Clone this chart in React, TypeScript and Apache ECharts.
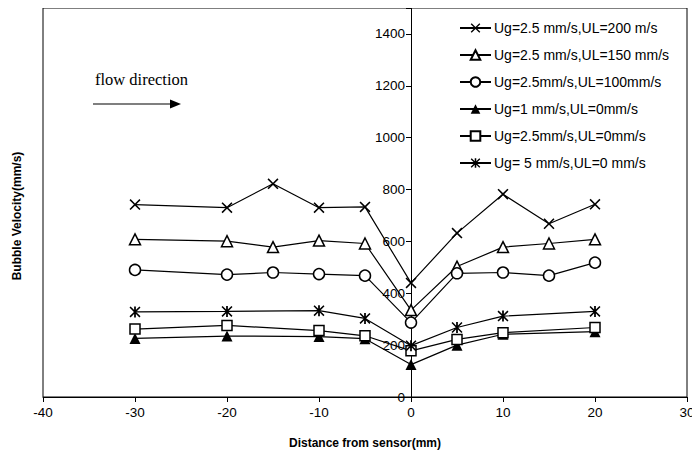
import React, { useEffect, useRef } from "react";
import * as echarts from "echarts";

// Distance from sensor (mm)
const distFull = [-30, -20, -15, -10, -5, 0, 5, 10, 15, 20];
const distShort = [-30, -20, -10, -5, 0, 5, 10, 20];

// Bubble velocity (mm/s) per flow condition
const ul200 = [742, 730, 822, 730, 733, 440, 632, 782, 668, 743];
const ul150 = [608, 601, 578, 603, 592, 335, 503, 578, 592, 608];
const ul100 = [490, 472, 480, 474, 468, 287, 477, 480, 468, 518];
const ug1 = [226, 235, 233, 225, 125, 200, 242, 252];
const ug25 = [262, 276, 256, 236, 178, 222, 248, 268];
const ug5 = [328, 330, 333, 303, 198, 268, 312, 330];

const seriesNames = [
  "Ug=2.5 mm/s,UL=200 m/s",
  "Ug=2.5 mm/s,UL=150 mm/s",
  "Ug=2.5mm/s,UL=100mm/s",
  "Ug=1 mm/s,UL=0mm/s",
  "Ug=2.5mm/s,UL=0mm/s",
  "Ug= 5 mm/s,UL=0 mm/s",
];

const xTicks = { min: -40, max: 30, interval: 10 };
const yTicks = { min: 0, max: 1500, interval: 200 };

const CROSS =
  "path://M1,0 L5,4 L9,0 L10,1 L6,5 L10,9 L9,10 L5,6 L1,10 L0,9 L4,5 L0,1 Z";
const ASTERISK =
  "path://M1,0 L5,4 L9,0 L10,1 L6,5 L10,9 L9,10 L5,6 L1,10 L0,9 L4,5 L0,1 Z M4.2,0 L5.8,0 L5.8,10 L4.2,10 Z";

const pair = (xs: number[], ys: number[]) => xs.map((x, i) => [x, ys[i]]);

const SANS = "'Liberation Sans', Arial, sans-serif";

// plot frame in pixels
const GRID_LEFT = 43;
const GRID_RIGHT = 13;
const WIDTH = 700;

export default function App() {
  const ref = useRef<HTMLDivElement>(null);

  useEffect(() => {
    if (!ref.current) return;
    const chart = echarts.init(ref.current, undefined, { renderer: "svg" });

    // vertical axis sits on x = 0 of the distance scale
    const plotW = WIDTH - GRID_LEFT - GRID_RIGHT;
    const zeroOffset = ((0 - xTicks.min) / (xTicks.max - xTicks.min)) * plotW;

    const openStyle = { color: "#fff", borderColor: "#000", borderWidth: 1.5 };
    const filledStyle = { color: "#000", borderColor: "#000", borderWidth: 0 };
    const lineStyle = { color: "#000", width: 1.2 };

    const defs = [
      { name: seriesNames[0], data: pair(distFull, ul200), symbol: CROSS, symbolSize: 11, itemStyle: filledStyle },
      { name: seriesNames[1], data: pair(distFull, ul150), symbol: "triangle", symbolSize: 11, itemStyle: openStyle },
      { name: seriesNames[2], data: pair(distFull, ul100), symbol: "circle", symbolSize: 11, itemStyle: openStyle },
      { name: seriesNames[3], data: pair(distShort, ug1), symbol: "triangle", symbolSize: 11, itemStyle: filledStyle },
      { name: seriesNames[4], data: pair(distShort, ug25), symbol: "rect", symbolSize: 10, itemStyle: openStyle },
      { name: seriesNames[5], data: pair(distShort, ug5), symbol: ASTERISK, symbolSize: 11, itemStyle: filledStyle },
    ];

    chart.setOption({
      animation: false,
      backgroundColor: "#fff",
      grid: {
        left: GRID_LEFT,
        right: GRID_RIGHT,
        top: 8,
        bottom: 61,
        show: true,
        borderColor: "#000",
        borderWidth: 1,
      },
      legend: {
        orient: "vertical",
        left: 454,
        top: 16,
        itemWidth: 31,
        itemHeight: 12,
        itemGap: 13,
        textStyle: { fontFamily: SANS, fontSize: 14, color: "#000", padding: [0, 0, 0, -2] },
        data: seriesNames,
      },
      xAxis: {
        type: "value",
        min: xTicks.min,
        max: xTicks.max,
        interval: xTicks.interval,
        name: "Distance from sensor(mm)",
        nameLocation: "middle",
        nameGap: 40,
        nameTextStyle: { fontFamily: SANS, fontSize: 12, fontWeight: "bold", color: "#000" },
        axisLine: { show: true, lineStyle: { color: "#000", width: 1 } },
        axisTick: { show: true, inside: false, length: 5, lineStyle: { color: "#000" } },
        axisLabel: { fontFamily: SANS, fontSize: 13.5, color: "#000", margin: 8 },
        splitLine: { show: false },
      },
      yAxis: {
        type: "value",
        position: "left",
        offset: -zeroOffset,
        min: yTicks.min,
        max: yTicks.max,
        interval: yTicks.interval,
        axisLine: { show: true, onZero: false, lineStyle: { color: "#000", width: 1 } },
        axisTick: { show: true, inside: false, length: 5, lineStyle: { color: "#000" } },
        axisLabel: {
          fontFamily: SANS,
          fontSize: 13.5,
          color: "#000",
          margin: 6,
          formatter: (v: number) => (v > 1400 ? "" : String(v)),
        },
        splitLine: { show: false },
      },
      graphic: [
        {
          type: "text",
          x: 17,
          y: 216,
          rotation: Math.PI / 2,
          style: {
            text: "Bubble Velocity(mm/s)",
            fontFamily: SANS,
            fontSize: 12,
            fontWeight: "bold",
            fill: "#000",
            align: "center",
            verticalAlign: "middle",
          },
        },
        {
          type: "text",
          x: 95,
          y: 79,
          style: {
            text: "flow direction",
            fontFamily: "'Liberation Serif', 'Times New Roman', serif",
            fontSize: 16.5,
            fill: "#000",
            align: "left",
            verticalAlign: "middle",
          },
        },
        {
          type: "line",
          shape: { x1: 93, y1: 104, x2: 172, y2: 104 },
          style: { stroke: "#000", lineWidth: 1.2 },
        },
        {
          type: "polygon",
          shape: { points: [[170, 99.5], [181, 104], [170, 108.5]] },
          style: { fill: "#000" },
        },
      ],
      series: defs.map((d) => ({
        type: "line",
        name: d.name,
        data: d.data,
        symbol: d.symbol,
        symbolSize: d.symbolSize,
        showSymbol: true,
        itemStyle: d.itemStyle,
        lineStyle,
        emphasis: { disabled: true },
        z: 3,
      })),
    });

    return () => chart.dispose();
  }, []);

  return <div ref={ref} style={{ width: 700, height: 458, margin: -8 }} />;
}
